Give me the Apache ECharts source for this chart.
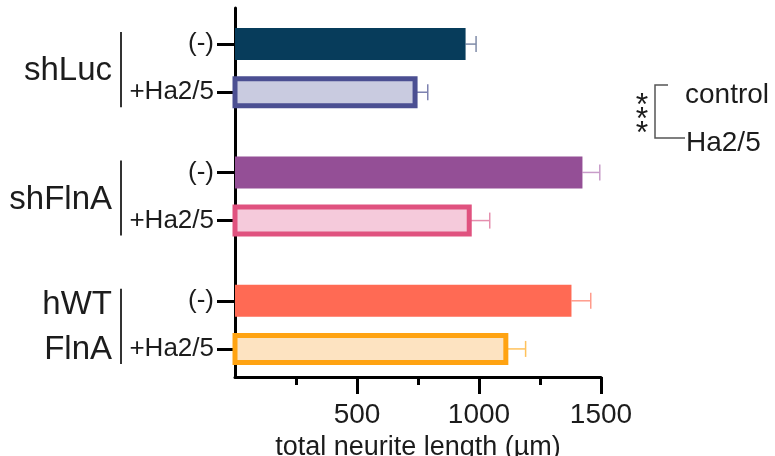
<!DOCTYPE html>
<html>
<head>
<meta charset="utf-8">
<script src="https://cdn.jsdelivr.net/npm/echarts@6/dist/echarts.min.js"></script>
<style>
  html, body { margin: 0; padding: 0; background: #fff; }
  #chart { width: 775px; height: 456px; }
</style>
</head>
<body>
<div id="chart"></div>
<script>
// data
var groups = ['shLuc', 'shFlnA', 'hWT\nFlnA'];
var treatments = ['(-)', '+Ha2/5'];
var means = [945, 738, 1424, 960, 1379, 1110];
var errors = [43, 52, 71, 84, 79, 81];
var xTickValues = [500, 1000, 1500];
var legendNames = ['control', 'Ha2/5'];
var significance = '***';
var xTitle = 'total neurite length (\u00b5m)';

// per-bar styling (same order as means)
var fills = ['#073c5b', '#c9cbe0', '#944f96', '#f5cadb', '#ff6a54', '#fde3c1'];
var borders = [null, '#4b4f92', null, '#e0527f', null, '#ffa312'];
var errColors = ['#7f8ba8', '#7d82b0', '#c89cc9', '#e58fae', '#ff9b8b', '#ffc25c'];

var FONT = '"Liberation Sans", Arial, sans-serif';
var INK = '#1c1c1c';
var BAR_H = 32, BORDER_W = 5, CAP = 8;

// the y axis is split into thin slots so the pair / group spacing can differ
var LEAD_SLOTS = 4, PAIR_STEP = 6, GROUP_STEP = 10, N_SLOTS = 46;

var slotNames = [], slotLabel = {}, barSlots = [];
var pos = LEAD_SLOTS;
groups.forEach(function (g) {
    treatments.forEach(function (t, ti) {
        barSlots.push(pos);
        pos += ti < treatments.length - 1 ? PAIR_STEP : GROUP_STEP;
    });
});
for (var i = 0; i < N_SLOTS; i++)
    slotNames.push('s' + i);
barSlots.forEach(function (s, k) {
    slotLabel['s' + s] = treatments[k % treatments.length];
});

var barData = [];
means.forEach(function (m, k) {
    barData.push([m, barSlots[k], errors[k], k]);
});

function hasLabel(idx, val) {
    return !!slotLabel[val];
}

function renderBar(params, api) {
    var k = api.value(3);
    var p0 = api.coord([0, api.value(1)]);
    var p1 = api.coord([api.value(0), api.value(1)]);
    if (borders[k]) {
        return {
            type: 'rect',
            shape: { x: p0[0], y: p0[1] - BAR_H / 2 + BORDER_W / 2, width: p1[0] - p0[0], height: BAR_H - BORDER_W },
            style: { fill: fills[k], stroke: borders[k], lineWidth: BORDER_W }
        };
    }
    return {
        type: 'rect',
        shape: { x: p0[0], y: p0[1] - BAR_H / 2, width: p1[0] - p0[0], height: BAR_H },
        style: { fill: fills[k] }
    };
}

function renderError(params, api) {
    var k = api.value(3);
    var p0 = api.coord([api.value(0), api.value(1)]);
    var p1 = api.coord([api.value(0) + api.value(2), api.value(1)]);
    var c = errColors[k];
    return {
        type: 'group',
        children: [{
            type: 'line',
            shape: { x1: p0[0], y1: p0[1], x2: p1[0], y2: p1[1] },
            style: { stroke: c, lineWidth: 1.5 }
        }, {
            type: 'line',
            shape: { x1: p1[0], y1: p1[1] - CAP, x2: p1[0], y2: p1[1] + CAP },
            style: { stroke: c, lineWidth: 1.5 }
        }]
    };
}

var chart = echarts.init(document.getElementById('chart'));

var options = {
    animation: false,
    grid: { left: 235, right: 174, top: 8, bottom: 79, containLabel: false, outerBoundsMode: 'none' },
    xAxis: {
        type: 'value',
        min: 0,
        max: 1500,
        interval: 500,
        axisLine: { show: true, lineStyle: { color: '#000', width: 3 } },
        axisTick: { show: true, length: 17, customValues: xTickValues, lineStyle: { color: '#000', width: 3 } },
        minorTick: { show: true, splitNumber: 2, length: 8, lineStyle: { color: '#000', width: 3 } },
        axisLabel: {
            customValues: xTickValues,
            formatter: function (v) { return String(v); },
            fontSize: 28, margin: 24, color: INK, fontFamily: FONT
        },
        splitLine: { show: false },
        minorSplitLine: { show: false },
        name: xTitle,
        nameLocation: 'middle',
        nameGap: 52,
        nameTextStyle: { fontSize: 27, color: INK, fontFamily: FONT }
    },
    yAxis: {
        type: 'category',
        data: slotNames,
        inverse: true,
        axisLine: { show: true, lineStyle: { color: '#000', width: 3 } },
        axisTick: { show: true, length: 18, alignWithLabel: true, interval: hasLabel, lineStyle: { color: '#000', width: 3 } },
        axisLabel: {
            interval: hasLabel,
            formatter: function (v) { return slotLabel[v] || ''; },
            fontSize: 26,
            margin: 21,
            color: INK,
            fontFamily: FONT
        },
        splitLine: { show: false }
    },
    series: [{
        name: 'error',
        type: 'custom',
        z: 1,
        encode: { x: 0, y: 1 },
        data: barData,
        renderItem: renderError
    }, {
        name: 'mean',
        type: 'custom',
        z: 2,
        encode: { x: 0, y: 1 },
        data: barData,
        renderItem: renderBar
    }]
};

chart.setOption(options);

// group labels, separators and the significance key
var gfx = [];
groups.forEach(function (g, gi) {
    var yA = chart.convertToPixel({ yAxisIndex: 0 }, slotNames[barSlots[gi * 2]]);
    var yB = chart.convertToPixel({ yAxisIndex: 0 }, slotNames[barSlots[gi * 2 + 1]]);
    gfx.push({
        type: 'line',
        shape: { x1: 121, y1: yA - 12, x2: 121, y2: yB + 15 },
        style: { stroke: '#333', lineWidth: 2 }
    });
    gfx.push({
        type: 'text',
        x: 112,
        y: (yA + yB) / 2 + 3,
        style: {
            text: g, fontSize: 33, fontFamily: FONT, fill: INK,
            align: 'right', verticalAlign: 'middle', lineHeight: 45
        }
    });
});
gfx.push({
    type: 'polyline',
    shape: { points: [[668, 85], [655, 85], [655, 138], [685, 138]] },
    style: { stroke: '#555', lineWidth: 1.5, fill: null }
});
gfx.push({
    type: 'text', x: 685, y: 95,
    style: { text: legendNames[0], fontSize: 28, fontFamily: FONT, fill: INK, align: 'left', verticalAlign: 'middle' }
});
gfx.push({
    type: 'text', x: 686, y: 143,
    style: { text: legendNames[1], fontSize: 28, fontFamily: FONT, fill: INK, align: 'left', verticalAlign: 'middle' }
});
gfx.push({
    type: 'text', x: 642, y: 120,
    style: {
        text: significance.split('').join('\n'), fontSize: 32, fontFamily: FONT, fill: INK,
        align: 'center', verticalAlign: 'middle', lineHeight: 14
    }
});
chart.setOption({ graphic: gfx });
</script>
</body>
</html>
